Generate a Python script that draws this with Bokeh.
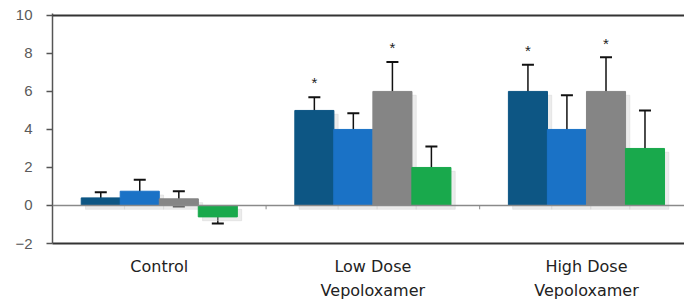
from bokeh.plotting import figure
from bokeh.models import Range1d, FixedTicker, Span, Whisker, ColumnDataSource, TeeHead
from bokeh.embed import file_html
from bokeh.resources import INLINE
from bokeh.core.properties import value

groups = ["Control", "Low Dose\nVepoloxamer", "High Dose\nVepoloxamer"]
series_names = ["Series 1", "Series 2", "Series 3", "Series 4"]
series1 = [0.4, 5.0, 6.0]
err1 = [0.3, 0.7, 1.4]
series2 = [0.75, 4.0, 4.0]
err2 = [0.6, 0.85, 1.8]
series3 = [0.35, 6.0, 6.0]
err3 = [0.4, 1.55, 1.8]
series4 = [-0.6, 2.0, 3.0]
err4 = [0.35, 1.1, 2.0]
star1 = [False, True, True]
star2 = [False, False, False]
star3 = [False, True, True]
star4 = [False, False, False]
y_ticks = [-2, 0, 2, 4, 6, 8, 10]

colors = ["#0d5684", "#1a72c6", "#858585", "#19a94c"]
offsets = [-0.274, -0.0915, 0.0915, 0.274]
bar_w = 0.183

p = figure(frame_width=632, frame_height=230, output_backend="svg", toolbar_location=None,
           x_range=Range1d(-0.5, 2.459), y_range=Range1d(-2, 10.1),
           min_border_left=52, min_border_right=0, min_border_top=13, min_border_bottom=0,
           x_axis_location="below", y_axis_location="left")
p.outline_line_color = None
p.xgrid.visible = False
p.ygrid.visible = False
p.background_fill_color = "white"
p.border_fill_color = "white"

all_vals = [series1, series2, series3, series4]
all_errs = [err1, err2, err3, err4]
all_stars = [star1, star2, star3, star4]

# soft drop shadows
for vals, off in zip(all_vals, offsets):
    xs = [i + off + 0.02 for i in range(len(groups))]
    tops = [max(v, 0) - 0.2 for v in vals]
    bots = [min(v, 0) - 0.2 for v in vals]
    p.vbar(x=xs, top=tops, bottom=bots, width=bar_w, color="#cfcfcf", alpha=0.4)

# zero line with category-boundary ticks
p.add_layout(Span(location=0, dimension="width", line_color="#8a8a8a", line_width=1.5))
p.segment(x0=[0.5, 1.5], x1=[0.5, 1.5], y0=[0, 0], y1=[-0.2, -0.2], line_color="#8a8a8a", line_width=1)

# top frame line at the axis maximum
p.add_layout(Span(location=y_ticks[-1], dimension="width", line_color="#333333", line_width=2))

for name, vals, errs, stars, off, c in zip(series_names, all_vals, all_errs, all_stars, offsets, colors):
    xs = [i + off for i in range(len(groups))]
    src = ColumnDataSource(dict(x=xs, top=vals,
                                upper=[v + e for v, e in zip(vals, errs)],
                                lower=[v - e for v, e in zip(vals, errs)]))
    p.vbar(x="x", top="top", bottom=0, width=bar_w, color=c, source=src)
    w = Whisker(source=src, base="x", upper="upper", lower="lower",
                line_color="#111111", line_width=1.5,
                upper_head=TeeHead(size=12, line_color="#111111", line_width=2),
                lower_head=TeeHead(size=12, line_color="#111111", line_width=2))
    p.add_layout(w)
    sx = [x for x, s in zip(xs, stars) if s]
    sy = [v + e + 0.3 for v, e, s in zip(vals, errs, stars) if s]
    if sx:
        p.text(x=sx, y=sy, text=["*"] * len(sx), text_align="center", text_baseline="bottom",
               text_font=value("Liberation Sans"), text_font_size="15px", text_color="#222222")

# y axis
ya = p.yaxis[0]
ya.ticker = FixedTicker(ticks=y_ticks)
ya.minor_tick_line_color = None
ya.major_tick_out = 6
ya.major_tick_in = 0
ya.axis_line_color = "#555555"
ya.axis_line_width = 1.5
ya.major_tick_line_color = "#555555"
ya.major_tick_line_width = 1.5
ya.major_label_text_font = "Liberation Sans"
ya.major_label_text_font_size = "15px"
ya.major_label_text_color = "#5a5a5a"
ya.major_label_standoff = 14

# x axis (bottom frame line + category labels)
xa = p.xaxis[0]
xa.ticker = FixedTicker(ticks=[0, 1, 2])
xa.major_label_overrides = {0: groups[0], 1: groups[1], 2: groups[2]}
xa.minor_tick_line_color = None
xa.major_tick_line_color = None
xa.major_tick_out = 0
xa.major_tick_in = 0
xa.axis_line_color = "#333333"
xa.axis_line_width = 2
xa.major_label_text_font = "DejaVu Sans"
xa.major_label_text_font_size = "16px"
xa.major_label_text_line_height = 1.3
xa.major_label_text_color = "#222222"
xa.major_label_standoff = 13

open("out.html", "w").write(file_html(p, INLINE))
